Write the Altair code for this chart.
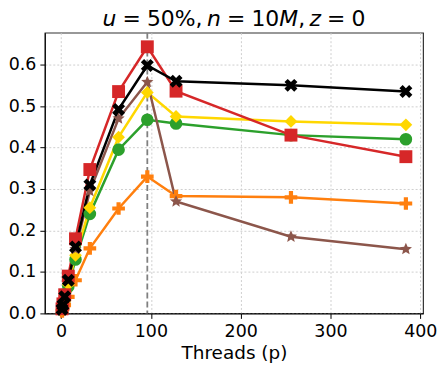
import altair as alt
import pandas as pd
import numpy as np

threads = [1, 2, 4, 8, 16, 32, 64, 96, 128, 256, 384]
series_names = ["green", "orange", "yellow", "brown", "red", "black"]
green = [0.008, 0.016, 0.033, 0.065, 0.13, 0.24, 0.395, 0.467, 0.458, 0.43, 0.42]
orange = [0.005, 0.01, 0.02, 0.04, 0.08, 0.157, 0.253, 0.33, 0.283, 0.28, 0.265]
yellow = [0.009, 0.018, 0.035, 0.07, 0.14, 0.255, 0.425, 0.533, 0.475, 0.463, 0.455]
brown = [0.01, 0.02, 0.04, 0.08, 0.155, 0.295, 0.47, 0.558, 0.27, 0.185, 0.155]
red = [0.011, 0.023, 0.045, 0.09, 0.18, 0.347, 0.535, 0.643, 0.536, 0.43, 0.378]
black = [0.01, 0.02, 0.04, 0.08, 0.16, 0.31, 0.492, 0.598, 0.56, 0.55, 0.535]
colors = ["#2ca02c", "#ff7f0e", "#ffd700", "#8c564b", "#d62728", "#000000"]
peak_threads = [96]

# title tokens: (text, italic?, space before in em)
title_parts = [("u", True, 0), ("=", False, .28), ("50%,", False, .28), ("n", True, .2),
               ("=", False, .28), ("10", False, .28), ("M", True, 0), (",", False, 0),
               ("z", True, .2), ("=", False, .28), ("0", False, .28)]

# marker shapes
def star_path():
    pts = []
    for i in range(10):
        r = 1.0 if i % 2 == 0 else 0.45
        a = -np.pi / 2 + i * np.pi / 5
        pts.append((r * np.cos(a), r * np.sin(a)))
    return "M" + " L".join(f"{x:.3f},{y:.3f}" for x, y in pts) + " Z"

x_path = ("M-1,-0.5 L-0.5,-1 L0,-0.5 L0.5,-1 L1,-0.5 L0.5,0 L1,0.5 L0.5,1 "
          "L0,0.5 L-0.5,1 L-1,0.5 L-0.5,0 Z")
plus_path = ("M-1,-0.33 L-0.33,-0.33 L-0.33,-1 L0.33,-1 L0.33,-0.33 L1,-0.33 L1,0.33 "
             "L0.33,0.33 L0.33,1 L-0.33,1 L-0.33,0.33 L-1,0.33 Z")
diamond_path = "M-1,0 L0,-1 L1,0 L0,1 Z"
shapes = ["circle", plus_path, diamond_path, star_path(), "square", x_path]
sizes = [160, 170, 240, 210, 165, 170]

rows = []
for name, vals in zip(series_names, [green, orange, yellow, brown, red, black]):
    for t, v in zip(threads, vals):
        rows.append({"series": name, "p": t, "v": v})
df = pd.DataFrame(rows)
df["order"] = df["series"].map({n: i for i, n in enumerate(series_names)})

W, H = 380, 282
xscale = alt.Scale(domain=[-18.15, 403.15], nice=False, zero=False)
yscale = alt.Scale(domain=[0, 0.677], nice=False)
cscale = alt.Scale(domain=series_names, range=colors)

base = alt.Chart(df)

lines = base.mark_line(strokeWidth=2.5).encode(
    x=alt.X("p:Q", scale=xscale,
            axis=alt.Axis(values=[0, 100, 200, 300, 400], title="Threads (p)",
                          grid=True, gridDash=[2, 2], gridColor="#cfcfcf",
                          labelFontSize=17.5, titleFontSize=18.5, labelColor="black",
                          titleColor="black", domainColor="black", tickColor="black",
                          tickSize=5, titleFontWeight="normal", titlePadding=4,
                          labelPadding=4)),
    y=alt.Y("v:Q", scale=yscale,
            axis=alt.Axis(values=[0, 0.1, 0.2, 0.3, 0.4, 0.5, 0.6], format=".1f",
                          title=None, grid=True, gridDash=[2, 2], gridColor="#cfcfcf",
                          labelFontSize=17.5, labelColor="black", domainColor="black",
                          tickColor="black", tickSize=5, labelPadding=4)),
    color=alt.Color("series:N", scale=cscale, legend=None),
    order=alt.Order("order:Q"),
)

points = base.mark_point(filled=True, opacity=1, strokeWidth=0).encode(
    x=alt.X("p:Q", scale=xscale),
    y=alt.Y("v:Q", scale=yscale),
    color=alt.Color("series:N", scale=cscale, legend=None),
    shape=alt.Shape("series:N", scale=alt.Scale(domain=series_names, range=shapes), legend=None),
    size=alt.Size("series:N", scale=alt.Scale(domain=series_names, range=sizes), legend=None),
)

vline = alt.Chart(pd.DataFrame({"p": peak_threads})).mark_rule(
    color="gray", strokeDash=[6, 3], strokeWidth=1.8
).encode(x=alt.X("p:Q", scale=xscale))

# title as separate tokens (math italic letters, upright numbers)
fs = 22
em = {"u": .634, "n": .634, "M": .863, "z": .525, "=": .838, "%": .950, ",": .318}
def width(s):
    return sum(em.get(c, .636) for c in s) * fs
total = sum(width(t) + g * fs for t, _, g in title_parts)
x0 = W / 2 - total / 2
title_layers = []
for t, it, g in title_parts:
    x0 += g * fs
    title_layers.append(
        alt.Chart(pd.DataFrame({"t": [t]})).mark_text(
            align="left", baseline="alphabetic", fontSize=fs, font="DejaVu Sans",
            fontStyle="italic" if it else "normal", color="black"
        ).encode(text="t:N", x=alt.value(x0), y=alt.value(-7))
    )
    x0 += width(t)

chart = alt.layer(lines, vline, points, *title_layers).properties(
    width=W, height=H,
    autosize=alt.AutoSizeParams(type="none"),
    padding={"left": 37, "top": 24, "right": 17, "bottom": 49},
).configure_view(stroke="#333333", strokeWidth=1.2).configure_axis(
    labelFont="DejaVu Sans", titleFont="DejaVu Sans"
)

chart.save("out.html", embed_options={"renderer": "svg", "actions": False})
